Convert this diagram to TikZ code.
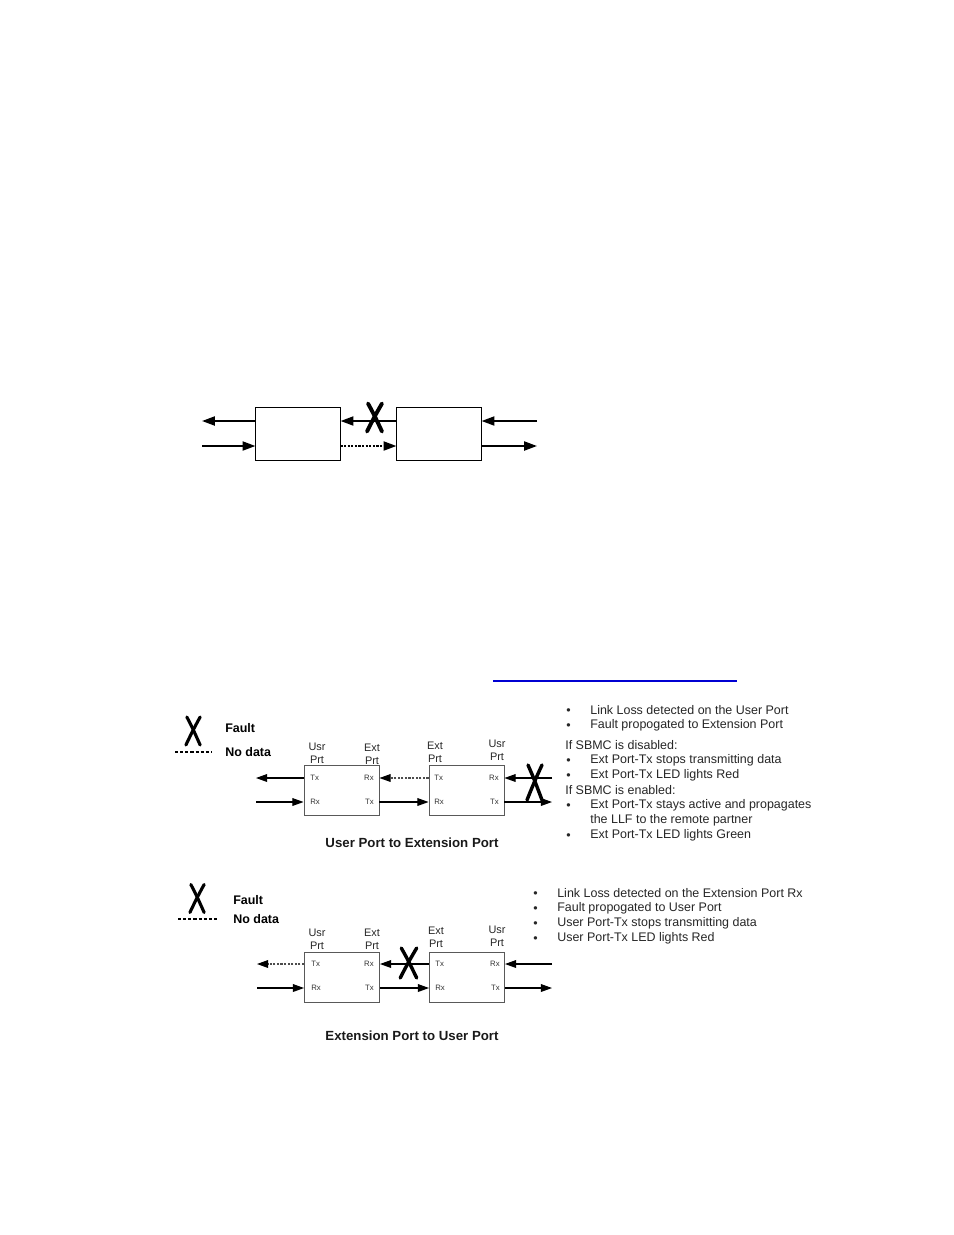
\documentclass[tikz,border=0pt]{standalone}
\usepackage{fontspec}
\setmainfont{Liberation Sans}
\usetikzlibrary{arrows.meta, positioning, calc}
\definecolor{linkblue}{RGB}{0,0,210}
\tikzset{
    box/.style={draw, line width=0.6pt, minimum width=54pt, minimum height=34pt, inner sep=0pt},
    portbox/.style={draw=black!65, line width=0.6pt, minimum width=48.1pt, minimum height=32.1pt, inner sep=0pt},
    bigarrow/.style={-{Triangle[length=8.3pt, width=5.8pt]}, line width=1.3pt},
    link/.style={-{Triangle[length=7.2pt, width=5pt, color=black]}, line width=0.7pt},
    nodata/.style={dash pattern=on 1.4pt off 0.9pt},
    port/.style={font=\fontsize{5}{6}\selectfont, text=black!80, inner sep=0pt},
    portname/.style={font=\fontsize{7}{8.3}\selectfont, text=black!85, align=center, inner sep=0pt},
    note/.style={font=\fontsize{8}{9.6}\selectfont, text=black!85, anchor=west, inner sep=0pt},
    dot/.style={note, yshift=-1pt},
    legend/.style={font=\fontsize{8}{9.6}\selectfont\bfseries, anchor=west, inner sep=0pt},
    caption/.style={font=\fontsize{8.5}{10}\selectfont\bfseries, text=black!90, inner sep=0pt},
    % hand drawn fault mark, 16 x 28 units
    faultx/.pic={
        \draw[line cap=round] (-7,-14) .. controls (-1,-3) .. (7,14);
        \draw[line cap=round] (7,-14) .. controls (0,-2) and (-4,6) .. (-8,14);
    },
}
\begin{document}
\begin{tikzpicture}[x=0.6415pt, y=-0.6415pt]
    \useasboundingbox (0,0) rectangle (954,1235);

    % plain link loss sketch
    \node[box] (usr1) at (298,433.5) {};
    \node[box] (ext1) at (439,433.5) {};
    \coordinate (usr1-out) at (202,421);
    \coordinate (usr1-in) at (202,446);
    \coordinate (ext1-in) at (537,421);
    \coordinate (ext1-out) at (537,446);
    \draw[bigarrow] (usr1.west |- usr1-out) -- (usr1-out);
    \draw[bigarrow] (usr1-in) -- (usr1.west |- usr1-in);
    \draw[bigarrow] (ext1.west |- usr1-out) -- (usr1.east |- usr1-out);
    \draw[bigarrow, nodata] (usr1.east |- usr1-in) -- (ext1.west |- usr1-in);
    \draw[bigarrow] (ext1-in) -- (ext1.east |- ext1-in);
    \draw[bigarrow] (ext1.east |- ext1-out) -- (ext1-out);
    \pic[line width=2.5pt] at (375,417.5) {faultx};

    \draw[line width=1pt, linkblue] (493,681) -- (737,681);

    % user port to extension port
    \pic[line width=2pt, xscale=0.95] at (193.5,731) {faultx};
    \node[legend] (fault-a) at (225,728) {Fault};
    \node[legend] (nodata-a) at (225,752) {No data};
    \draw[line width=0.7pt, dash pattern=on 2pt off 1.3pt] (175,752) -- (212,752);

    \node[portbox] (usr2) at (341.5,790) {};
    \node[portbox] (ext2) at (466.5,790) {};
    \node[portname] at (317,753.5) {Usr\\Prt};
    \node[portname] at (372,754) {Ext\\Prt};
    \node[portname] at (435,752) {Ext\\Prt};
    \node[portname] at (497,750) {Usr\\Prt};
    \node[port, anchor=west] (usr2-tx) at (310,778) {Tx};
    \node[port, anchor=west] (usr2-rx) at (310,802) {Rx};
    \node[port, anchor=east] (usr2-erx) at (374,778) {Rx};
    \node[port, anchor=east] (usr2-etx) at (374,802) {Tx};
    \node[port, anchor=west] (ext2-tx) at (434,778) {Tx};
    \node[port, anchor=west] (ext2-rx) at (434,802) {Rx};
    \node[port, anchor=east] (ext2-urx) at (499,778) {Rx};
    \node[port, anchor=east] (ext2-utx) at (499,802) {Tx};
    \coordinate (usr2-out) at (256,778);
    \coordinate (usr2-in) at (256,802);
    \coordinate (ext2-in) at (552,778);
    \coordinate (ext2-out) at (552,802);
    \draw[link] (usr2.west |- usr2-tx) -- (usr2-out);
    \draw[link] (usr2-in) -- (usr2.west |- usr2-rx);
    \draw[link, nodata, black!70] (ext2.west |- ext2-tx) -- (usr2.east |- usr2-erx);
    \draw[link] (usr2.east |- usr2-etx) -- (ext2.west |- ext2-rx);
    \draw[link] (ext2-in) -- (ext2.east |- ext2-urx);
    \draw[link] (ext2.east |- ext2-utx) -- (ext2-out);
    \pic[line width=2.2pt, yscale=1.25] at (535,782.5) {faultx};
    \node[caption] at (412,843) {User Port to Extension Port};

    \foreach \y/\txt in {710/Link Loss detected on the User Port,
                         725/Fault propogated to Extension Port,
                         760/Ext Port-Tx stops transmitting data,
                         775/Ext Port-Tx LED lights Red,
                         805/Ext Port-Tx stays active and propagates,
                         835/Ext Port-Tx LED lights Green}{
        \node[dot] at (566,\y) {\textbullet};
        \node[note] at (590,\y) {\txt};
    }
    \node[note] at (590,820) {the LLF to the remote partner};
    \node[note] at (565,745) {If SBMC is disabled:};
    \node[note] at (565,790) {If SBMC is enabled:};

    % extension port to user port
    \pic[line width=2pt, xscale=0.95] at (197.5,898.5) {faultx};
    \node[legend] (fault-b) at (233,900) {Fault};
    \node[legend] (nodata-b) at (233,919) {No data};
    \draw[line width=0.7pt, dash pattern=on 2pt off 1.3pt] (178,919) -- (217,919);

    \node[portbox] (usr3) at (342,977) {};
    \node[portbox] (ext3) at (467,977) {};
    \node[portname] at (317,939) {Usr\\Prt};
    \node[portname] at (372,939.5) {Ext\\Prt};
    \node[portname] at (436,937.5) {Ext\\Prt};
    \node[portname] at (497,936.5) {Usr\\Prt};
    \node[port, anchor=west] (usr3-tx) at (311,964) {Tx};
    \node[port, anchor=west] (usr3-rx) at (311,988) {Rx};
    \node[port, anchor=east] (usr3-erx) at (374,964) {Rx};
    \node[port, anchor=east] (usr3-etx) at (374,988) {Tx};
    \node[port, anchor=west] (ext3-tx) at (435,964) {Tx};
    \node[port, anchor=west] (ext3-rx) at (435,988) {Rx};
    \node[port, anchor=east] (ext3-urx) at (500,964) {Rx};
    \node[port, anchor=east] (ext3-utx) at (500,988) {Tx};
    \coordinate (usr3-out) at (257,964);
    \coordinate (usr3-in) at (257,988);
    \coordinate (ext3-in) at (552,964);
    \coordinate (ext3-out) at (552,988);
    \draw[link, nodata, black!70] (usr3.west |- usr3-tx) -- (usr3-out);
    \draw[link] (usr3-in) -- (usr3.west |- usr3-rx);
    \draw[link] (ext3.west |- ext3-tx) -- (usr3.east |- usr3-erx);
    \draw[link] (usr3.east |- usr3-etx) -- (ext3.west |- ext3-rx);
    \draw[link] (ext3-in) -- (ext3.east |- ext3-urx);
    \draw[link] (ext3.east |- ext3-utx) -- (ext3-out);
    \pic[line width=2.2pt, xscale=1.1, yscale=1.07] at (409,963) {faultx};
    \node[caption] at (412,1036) {Extension Port to User Port};

    \foreach \y/\txt in {893/Link Loss detected on the Extension Port Rx,
                         908/Fault propogated to User Port,
                         923/User Port-Tx stops transmitting data,
                         938/User Port-Tx LED lights Red}{
        \node[dot] at (533,\y) {\textbullet};
        \node[note] at (557,\y) {\txt};
    }
\end{tikzpicture}
\end{document}
